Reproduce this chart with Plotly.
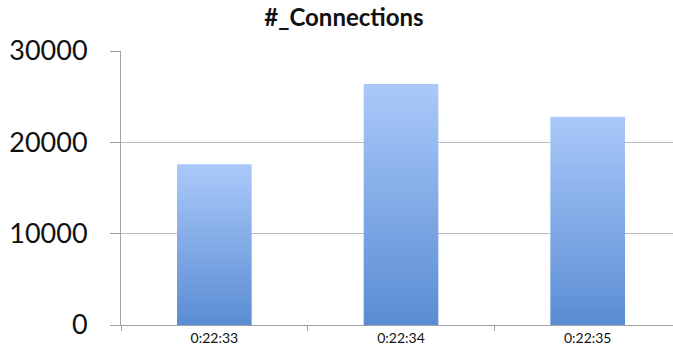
import plotly.graph_objects as go

categories = ["0:22:33", "0:22:34", "0:22:35"]
connections = [17600, 26400, 22800]
y_ticks = [0, 10000, 20000, 30000]

bar_half = 0.2

fig = go.Figure()
for i, (cat, v) in enumerate(zip(categories, connections)):
    xs = [i - bar_half, i + bar_half, i + bar_half, i - bar_half, i - bar_half]
    ys = [0, 0, v, v, 0]
    fig.add_trace(go.Scatter(
        x=xs, y=ys, mode="lines", fill="toself",
        line=dict(width=0, color="rgba(0,0,0,0)"),
        fillgradient=dict(type="vertical",
                          colorscale=[[0, "#5a8cd3"], [1, "#aac9fa"]],
                          start=0, stop=v),
        name=cat, showlegend=False, hoverinfo="skip",
    ))

fig.update_layout(
    width=673, height=357,
    margin=dict(l=121, r=0, t=51, b=32),
    paper_bgcolor="white", plot_bgcolor="white",
    title=dict(text="<b>#_Connections</b>", x=344 / 673, xanchor="center",
               y=1 - 18 / 357, yanchor="middle",
               font=dict(family="Lato", size=24, color="#111")),
    font=dict(family="Lato", color="#111"),
)
fig.update_xaxes(
    range=[-0.5, 2.457],
    tickmode="array", tickvals=list(range(len(categories))), ticktext=categories,
    ticks="", showgrid=False, zeroline=False,
    showline=True, linecolor="#a0a0a0", linewidth=1,
    tickfont=dict(family="Lato", size=14, color="#111"),
    minor=dict(tick0=0.5, dtick=1, ticks="outside", ticklen=5, tickcolor="#a0a0a0", showgrid=False),
)
fig.update_yaxes(
    range=[0, 30000], tickmode="array", tickvals=y_ticks,
    ticktext=[str(t) for t in y_ticks],
    ticks="outside", ticklen=10, tickcolor="#a0a0a0",
    showgrid=True, gridcolor="#bdbdbd", gridwidth=1,
    zeroline=False, showline=True, linecolor="#a0a0a0", linewidth=1,
    tickfont=dict(family="Lato", size=27, color="#111"),
    ticklabelstandoff=17,
)

fig.write_html("out.html")
